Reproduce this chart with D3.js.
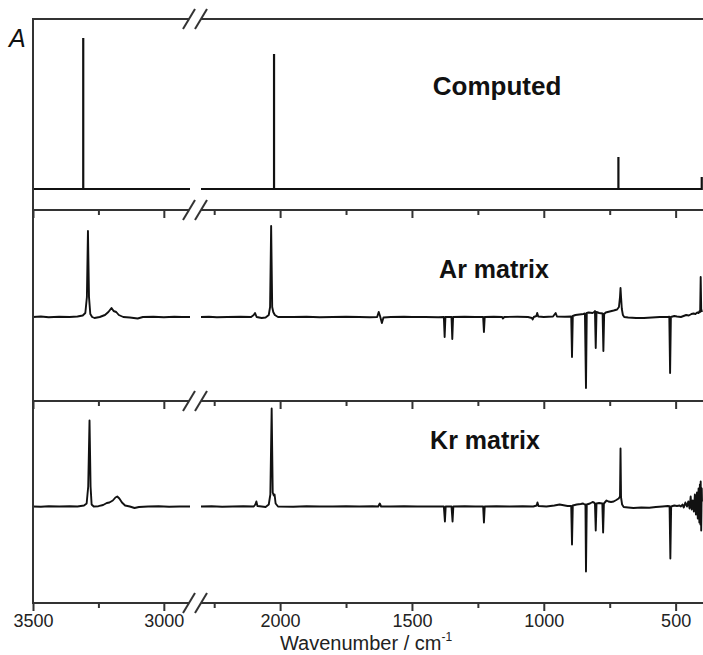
<!DOCTYPE html>
<html><head><meta charset="utf-8">
<script src="https://cdn.jsdelivr.net/npm/d3@7"></script>
<style>body{margin:0;background:#fff}svg{display:block}</style>
</head><body>
<svg id="c" width="703" height="655"></svg>
<script>
// ---------------- data ----------------
const majorTicks = [3500, 3000, 2000, 1500, 1000, 500];
const minorTicks = [3250, 2250, 1750, 1250, 750];
const panelLabels = ["Computed", "Ar matrix", "Kr matrix"];
const axisTitle = "Wavenumber / cm";
const yLabel = "A";

// computed stick spectrum: [wavenumber, relative intensity]
const computedSticks = [[3308, 1.0], [2023, 0.894], [717, 0.212], [401, 0.08]];

// Ar matrix spectrum: [wavenumber, absorbance (arb.)]
const arSpectrum = [
 [3500,0],[3470,0.005],[3440,-0.003],[3400,0.003],[3360,0],[3330,0.005],[3310,0.015],[3300,0.04],
 [3294,0.2],[3290,0.86],[3286,0.2],[3281,0.03],[3274,0.0],[3265,-0.01],[3245,0],[3225,0.02],
 [3212,0.05],[3200,0.09],[3192,0.06],[3182,0.05],[3172,0.02],[3155,0.0],[3130,-0.005],[3100,-0.015],
 [3080,0],[3040,0.003],[3000,-0.003],[2960,0.002],[2930,0],[2900,0],
 [2300,0],[2270,0.003],[2240,-0.003],[2200,0],[2150,0.003],[2110,0],[2100,0.02],[2095,0.04],[2089,0.0],
 [2070,-0.01],[2055,-0.005],[2043,0.02],[2038,0.1],[2034,0.91],[2030,0.1],[2026,0.05],[2020,0.02],
 [2008,0.0],[1950,0],[1900,0.003],[1850,-0.003],[1800,0],[1750,0.003],[1700,0],[1660,-0.003],[1632,0],
 [1626,0.05],[1621,0.01],[1614,-0.06],[1608,-0.005],[1580,0],[1530,0.003],[1500,0],[1450,0],[1400,-0.003],
 [1379,0],[1376,-0.2],[1373,0],[1350,0],[1347,-0.22],[1344,0],[1300,0.003],[1260,0],[1230,0],[1227,-0.15],
 [1224,0],[1190,0.003],[1158,0],[1155,-0.015],[1150,0],[1100,0.003],[1060,0],[1045,-0.01],[1042,-0.025],
 [1038,0],[1028,0.01],[1025,0.04],[1021,0.005],[1000,0],[965,0.005],[955,0.04],[950,0.005],[920,0.003],
 [896,0.005],[893,-0.4],[890,0.01],[880,0.02],[865,0.025],[850,0.03],[844,0.035],[840,-0.71],[837,0.04],
 [830,0.045],[815,0.04],[809,0.05],[806,0.06],[803,-0.31],[800,0.05],[790,0.04],[777,0.035],[774,-0.34],
 [771,0.03],[765,0.045],[750,0.055],[735,0.065],[722,0.075],[715,0.1],[711,0.2],[709,0.29],[707,0.2],
 [704,0.08],[700,0.02],[695,0.0],[680,-0.005],[650,-0.01],[620,-0.01],[590,-0.005],[560,0],[530,0],
 [524,0.002],[521,-0.56],[518,0],[505,0.01],[495,0.005],[480,0],[470,0.01],[460,0.02],[450,0.015],
 [440,0.03],[432,0.035],[425,0.03],[418,0.045],[413,0.04],[409,0.06],[407,0.05],[405,0.4],[403,0.08],
 [401,0.06],[400,0.05]
];

// Kr matrix spectrum: [wavenumber, absorbance (arb.)]
const krSpectrum = [
 [3500,0],[3470,-0.003],[3440,0.003],[3400,0],[3360,0.003],[3330,0],[3305,0.01],[3295,0.03],
 [3289,0.2],[3284,0.86],[3280,0.2],[3276,0.02],[3268,0],[3250,0.003],[3232,0.015],[3218,0.035],
 [3208,0.04],[3195,0.06],[3185,0.09],[3178,0.1],[3170,0.08],[3160,0.04],[3148,0.01],[3130,0],
 [3112,-0.015],[3095,-0.005],[3060,0],[3020,0.003],[2980,-0.003],[2940,0],[2900,0],
 [2300,0],[2260,0.003],[2220,-0.003],[2180,0],[2140,0.003],[2100,0],[2094,0.02],[2090,0.05],[2086,0.005],
 [2070,0],[2055,-0.005],[2043,0.02],[2037,0.12],[2032,0.98],[2028,0.14],[2024,0.11],[2021,0.12],
 [2017,0.03],[2008,0],[1950,-0.003],[1900,0.003],[1850,0],[1800,0],[1750,0.003],[1700,0],[1650,0.003],
 [1628,0.0],[1622,0.03],[1617,0],[1580,0],[1530,0.003],[1480,0],[1420,0],[1379,0],[1375,-0.15],[1372,0],
 [1350,0],[1346,-0.15],[1343,0],[1300,0.003],[1260,0],[1230,0],[1227,-0.16],[1224,0],[1180,0.003],
 [1130,0],[1080,0.003],[1040,0],[1027,0.01],[1024,0.04],[1020,0.005],[990,0],[960,0.01],[940,0.02],
 [910,0.005],[896,0.005],[893,-0.38],[890,0.01],[875,0.02],[860,0.025],[851,0.03],[845,0.02],[842,0.02],
 [840,-0.65],[837,0.02],[825,0.03],[815,0.045],[810,0.04],[806,0.03],[803,-0.24],[800,0.03],[790,0.035],
 [778,0.03],[775,-0.26],[772,0.03],[762,0.06],[755,0.05],[745,0.045],[735,0.05],[725,0.065],[716,0.08],
 [711,0.1],[709,0.58],[707,0.09],[703,0.02],[697,-0.005],[680,-0.01],[660,-0.015],[630,-0.01],[600,-0.012],
 [575,-0.005],[550,0],[530,0.005],[523,0.003],[520,-0.52],[517,0],[505,0.01],[495,0.005],[485,0.01],
 [480,0],[474,0.02],[469,-0.01],[463,0.04],[457,0.0],[452,0.05],[447,-0.02],[443,0.1],[439,-0.03],
 [435,0.06],[431,-0.05],[427,0.12],[423,-0.08],[419,0.14],[416,-0.12],[413,0.18],[410,-0.16],
 [408,0.22],[406,-0.18],[405,0.25],[403,-0.24],[401,0.18],[400,0.05]
];

// ---------------- drawing ----------------
const svg = d3.select("#c");
const W = 703;
const x = d3.scaleLinear().domain([3500, 2900, 2300, 400]).range([33, 190, 201, 702]);
const leftEnd = 2900, rightStart = 2300;
const panels = [
  {top: 19,  bottom: 210, domain: [-0.139, 1.126]},
  {top: 210, bottom: 401, domain: [-0.84, 1.07]},
  {top: 401, bottom: 603, domain: [-0.965, 1.055]}
];
panels.forEach(p => p.y = d3.scaleLinear().domain(p.domain).range([p.bottom, p.top]));

const axisColor = "#333";
const lineColor = "#111";
const font = "Liberation Sans, Arial, sans-serif";

function drawSpectrum(data, p, sw) {
  const line = d3.line().x(d => x(d[0])).y(d => p.y(d[1]));
  const left = data.filter(d => d[0] >= leftEnd);
  const right = data.filter(d => d[0] <= rightStart);
  [left, right].forEach(seg => {
    svg.append("path").attr("d", line(seg)).attr("fill", "none")
      .attr("stroke", lineColor).attr("stroke-width", sw).attr("stroke-linejoin", "round");
  });
}

// computed: baseline + sticks
{
  const p = panels[0];
  const line = d3.line().x(d => x(d[0])).y(d => p.y(d[1]));
  const left = [[3500, 0]], right = [[rightStart, 0]];
  computedSticks.forEach(s => {
    const seg = s[0] >= leftEnd ? left : right;
    seg.push([s[0], 0], [s[0], s[1]], [s[0], 0]);
  });
  left.push([leftEnd, 0]); right.push([400, 0]);
  [left, right].forEach(seg => svg.append("path").attr("d", line(seg)).attr("fill", "none")
    .attr("stroke", lineColor).attr("stroke-width", 2.2));
}
drawSpectrum(arSpectrum, panels[1], 1.9);
drawSpectrum(krSpectrum, panels[2], 1.9);

// horizontal axis lines (broken) at top of each panel and bottom
const hLines = [19, 210, 401, 603];
const brk1 = 189, brk2 = 201;
hLines.forEach(yy => {
  svg.append("line").attr("x1", 33).attr("x2", brk1).attr("y1", yy).attr("y2", yy)
    .attr("stroke", axisColor).attr("stroke-width", 2);
  svg.append("line").attr("x1", brk2).attr("x2", W).attr("y1", yy).attr("y2", yy)
    .attr("stroke", axisColor).attr("stroke-width", 2);
  [brk1, brk2].forEach(bx => svg.append("line")
    .attr("x1", bx - 6).attr("y1", yy + 10).attr("x2", bx + 6).attr("y2", yy - 10)
    .attr("stroke", axisColor).attr("stroke-width", 2));
});
// left vertical line
svg.append("line").attr("x1", 33).attr("x2", 33).attr("y1", 18).attr("y2", 604)
  .attr("stroke", axisColor).attr("stroke-width", 2);

// ticks (pointing down) on lines 210, 401, 603 via d3 axes
[210, 401, 603].forEach((yy, i) => {
  const gMaj = svg.append("g").attr("transform", `translate(0,${yy})`)
    .call(d3.axisBottom(x).tickValues(majorTicks).tickSize(8).tickSizeOuter(0)
      .tickFormat(i === 2 ? d3.format("d") : () => "").tickPadding(3));
  gMaj.select(".domain").remove();
  gMaj.selectAll("line").attr("stroke", axisColor).attr("stroke-width", 2);
  gMaj.selectAll("text").attr("font-family", font)
    .attr("font-size", 18).attr("fill", "#222");
  const gMin = svg.append("g").attr("transform", `translate(0,${yy})`)
    .call(d3.axisBottom(x).tickValues(minorTicks).tickSize(5).tickFormat(() => ""));
  gMin.select(".domain").remove();
  gMin.selectAll("line").attr("stroke", axisColor).attr("stroke-width", 2);
});

// labels
const labelPos = [[497, 95], [494, 278], [485, 449]];
panelLabels.forEach((t, i) => svg.append("text").attr("x", labelPos[i][0]).attr("y", labelPos[i][1])
  .attr("text-anchor", "middle").attr("font-family", font)
  .attr("font-weight", "bold").attr("font-size", i === 0 ? 26 : 25).attr("fill", "#111").text(t));

svg.append("text").attr("x", 9).attr("y", 47).attr("font-family", font)
  .attr("font-style", "italic").attr("font-size", 25).attr("fill", "#111").text(yLabel);

const title = svg.append("text").attr("x", 366).attr("y", 650).attr("text-anchor", "middle")
  .attr("font-family", font).attr("font-size", 20).attr("fill", "#222");
title.append("tspan").text(axisTitle);
title.append("tspan").attr("font-size", 12).attr("dy", -9).text("-1");
</script>
</body></html>
